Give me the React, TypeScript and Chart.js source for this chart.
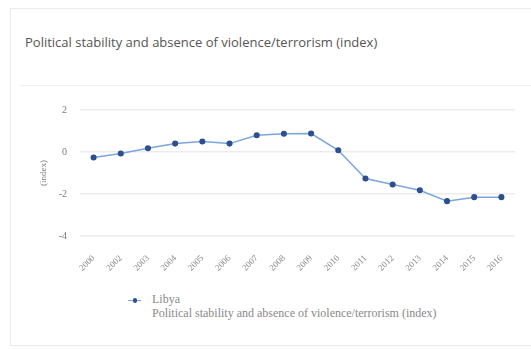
import React, { useEffect, useRef } from "react";
import { Chart, registerables } from "chart.js";

Chart.register(...registerables);

const years = [
  "2000", "2002", "2003", "2004", "2005", "2006", "2007", "2008",
  "2009", "2010", "2011", "2012", "2013", "2014", "2015", "2016",
];
const libya = [
  -0.26, -0.07, 0.18, 0.4, 0.5, 0.4, 0.8, 0.87,
  0.88, 0.08, -1.26, -1.55, -1.82, -2.34, -2.15, -2.15,
];
const yTicks = [2, 0, -2, -4];
const seriesName = "Libya";
const indicator = "Political stability and absence of violence/terrorism (index)";

const serif = "'Liberation Serif', 'DejaVu Serif', serif";

export default function App() {
  const canvasRef = useRef<HTMLCanvasElement | null>(null);

  useEffect(() => {
    const ctx = canvasRef.current;
    if (!ctx) return;
    const chart = new Chart(ctx, {
      type: "line",
      data: {
        labels: years,
        datasets: [
          {
            label: seriesName,
            data: libya,
            borderColor: "#7aa6e0",
            borderWidth: 1.5,
            pointBackgroundColor: "#2e4f8f",
            pointBorderColor: "#2e4f8f",
            pointRadius: 2.3,
            tension: 0,
          },
        ],
      },
      options: {
        animation: false,
        responsive: false,
        maintainAspectRatio: false,
        layout: { padding: { left: 34, top: 110, right: 16, bottom: 0 } },
        plugins: { legend: { display: false }, tooltip: { enabled: false } },
        scales: {
          x: {
            offset: true,
            grid: { display: false, drawTicks: false },
            border: { display: false },
            ticks: {
              minRotation: 45,
              maxRotation: 45,
              padding: 17,
              color: "#8a8a8a",
              font: { family: serif, size: 9 },
            },
            afterFit: (s: any) => {
              s.height = 54;
            },
          },
          y: {
            min: -4,
            max: 2,
            afterBuildTicks: (s: any) => {
              s.ticks = yTicks.map((v) => ({ value: v }));
            },
            grid: { color: "#ececec", lineWidth: 1.5, drawTicks: false },
            border: { display: false },
            ticks: {
              padding: 13,
              color: "#7a7a7a",
              font: { family: serif, size: 10 },
            },
            title: {
              display: true,
              text: "(index)",
              color: "#7a7a7a",
              font: { family: serif, size: 9 },
              padding: { top: 4, bottom: 4 },
            },
            afterFit: (s: any) => {
              s.width = 46;
            },
          },
        },
      },
    });
    return () => chart.destroy();
  }, []);

  return (
    <div
      style={{
        position: "absolute",
        left: 0,
        top: 0,
        width: 531,
        height: 349,
        overflow: "hidden",
        background: "#ffffff",
      }}
    >
      <div
        style={{
          position: "absolute",
          left: 10,
          top: 8,
          width: 540,
          height: 338,
          border: "1px solid #ebebeb",
          boxSizing: "border-box",
        }}
      />
      <div
        style={{
          position: "absolute",
          left: 20,
          top: 85,
          width: 520,
          height: 1,
          background: "#f0f0f0",
        }}
      />
      <div
        style={{
          position: "absolute",
          left: 25,
          top: 33,
          fontFamily: "'Open Sans', sans-serif",
          fontSize: 13,
          color: "#555",
          whiteSpace: "nowrap",
        }}
      >
        {indicator}
      </div>
      <canvas
        ref={canvasRef}
        width={531}
        height={290}
        style={{ position: "absolute", left: 0, top: 0, width: 531, height: 290 }}
      />
      <div style={{ position: "absolute", left: 128, top: 296, width: 14, height: 8 }}>
        <div
          style={{
            position: "absolute",
            left: 0,
            top: 3.5,
            width: 13,
            height: 1.5,
            background: "#7aa6e0",
          }}
        />
        <div
          style={{
            position: "absolute",
            left: 4.5,
            top: 2,
            width: 4.5,
            height: 4.5,
            borderRadius: "50%",
            background: "#2e4f8f",
          }}
        />
      </div>
      <div
        style={{
          position: "absolute",
          left: 152,
          top: 292,
          fontFamily: serif,
          fontSize: 12,
          lineHeight: "14px",
          color: "#8a8a8a",
          whiteSpace: "nowrap",
        }}
      >
        <div>{seriesName}</div>
        <div>{indicator}</div>
      </div>
    </div>
  );
}
